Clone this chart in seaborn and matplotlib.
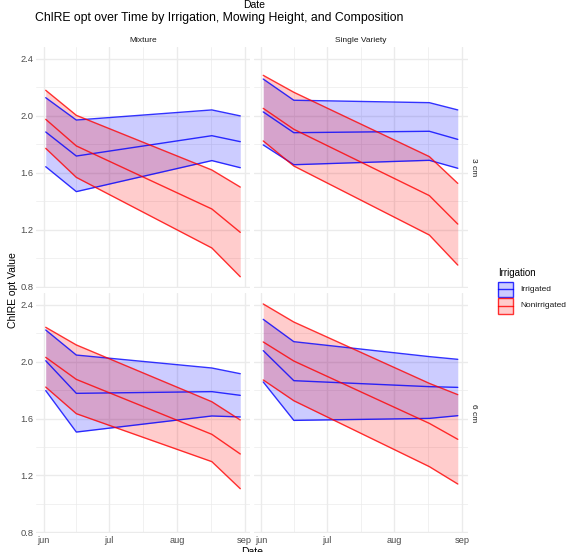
import matplotlib
matplotlib.use("Agg")
import matplotlib.pyplot as plt
from matplotlib.patches import Rectangle
import seaborn as sns
import pandas as pd
import numpy as np

# ---------------- data ----------------
dates = ["2023-06-02", "2023-06-16", "2023-08-17", "2023-08-30"]
compositions = ["Mixture", "Single Variety"]
heights = ["3 cm", "6 cm"]
irrigations = ["Irrigated", "Nonirrigated"]

# Mixture, 3 cm
mix3_irr_lo = [1.643, 1.468, 1.686, 1.636]
mix3_irr_mean = [1.887, 1.718, 1.861, 1.819]
mix3_irr_hi = [2.128, 1.971, 2.042, 2.000]
mix3_non_lo = [1.772, 1.568, 1.072, 0.870]
mix3_non_mean = [1.976, 1.789, 1.346, 1.182]
mix3_non_hi = [2.180, 2.004, 1.620, 1.500]

# Single Variety, 3 cm
sv3_irr_lo = [1.796, 1.657, 1.688, 1.632]
sv3_irr_mean = [2.028, 1.882, 1.892, 1.835]
sv3_irr_hi = [2.259, 2.110, 2.093, 2.042]
sv3_non_lo = [1.824, 1.648, 1.163, 0.952]
sv3_non_mean = [2.053, 1.906, 1.440, 1.240]
sv3_non_hi = [2.285, 2.166, 1.714, 1.526]

# Mixture, 6 cm
mix6_irr_lo = [1.796, 1.505, 1.618, 1.611]
mix6_irr_mean = [2.006, 1.777, 1.789, 1.763]
mix6_irr_hi = [2.222, 2.046, 1.955, 1.915]
mix6_non_lo = [1.821, 1.634, 1.297, 1.107]
mix6_non_mean = [2.030, 1.875, 1.489, 1.351]
mix6_non_hi = [2.241, 2.117, 1.718, 1.590]

# Single Variety, 6 cm
sv6_irr_lo = [1.857, 1.587, 1.601, 1.620]
sv6_irr_mean = [2.077, 1.866, 1.824, 1.819]
sv6_irr_hi = [2.297, 2.140, 2.035, 2.016]
sv6_non_lo = [1.871, 1.725, 1.262, 1.140]
sv6_non_mean = [2.138, 2.004, 1.566, 1.454]
sv6_non_hi = [2.405, 2.278, 1.847, 1.768]

y_ticks = [0.8, 1.2, 1.6, 2.0, 2.4]
x_tick_dates = ["2023-06-01", "2023-07-01", "2023-08-01", "2023-09-01"]
x_tick_labels = ["jun", "jul", "aug", "sep"]

# ---------------- build table ----------------
series = {
    ("Mixture", "3 cm", "Irrigated"): (mix3_irr_lo, mix3_irr_mean, mix3_irr_hi),
    ("Mixture", "3 cm", "Nonirrigated"): (mix3_non_lo, mix3_non_mean, mix3_non_hi),
    ("Single Variety", "3 cm", "Irrigated"): (sv3_irr_lo, sv3_irr_mean, sv3_irr_hi),
    ("Single Variety", "3 cm", "Nonirrigated"): (sv3_non_lo, sv3_non_mean, sv3_non_hi),
    ("Mixture", "6 cm", "Irrigated"): (mix6_irr_lo, mix6_irr_mean, mix6_irr_hi),
    ("Mixture", "6 cm", "Nonirrigated"): (mix6_non_lo, mix6_non_mean, mix6_non_hi),
    ("Single Variety", "6 cm", "Irrigated"): (sv6_irr_lo, sv6_irr_mean, sv6_irr_hi),
    ("Single Variety", "6 cm", "Nonirrigated"): (sv6_non_lo, sv6_non_mean, sv6_non_hi),
}
rows = []
for (comp, h, irr), (lo, mn, hi) in series.items():
    for d, a, b, c in zip(dates, lo, mn, hi):
        rows.append(dict(Date=pd.Timestamp(d), Composition=comp, Height=h,
                         Irrigation=irr, lo=a, mean=b, hi=c))
df = pd.DataFrame(rows)

# ---------------- figure ----------------
sns.set_theme(style="white")
plt.rcParams["font.family"] = ["Liberation Sans", "DejaVu Sans"]

W, H = 568, 552
fig = plt.figure(figsize=(W / 100, H / 100), dpi=100)

colors = {"Irrigated": "#0000FF", "Nonirrigated": "#FF0000"}

panel_x = [36, 253.5]
panel_w = 214
panel_y = [47.3, 293]
panel_h = 240.4

d0 = pd.Timestamp(dates[0])
d1 = pd.Timestamp(dates[-1])
pad = (d1 - d0) * 0.05
xlim = (d0 - pad, d1 + pad)
ylim = (0.793, 2.482)

major_x = [pd.Timestamp(d) for d in x_tick_dates]
minor_x = [major_x[i] + (major_x[i + 1] - major_x[i]) / 2 for i in range(3)]
minor_y = [1.0, 1.4, 1.8, 2.2]

grid_col = "#EBEBEB"

for r, h in enumerate(heights):
    for c, comp in enumerate(compositions):
        left = panel_x[c] / W
        bottom = 1 - (panel_y[r] + panel_h) / H
        ax = fig.add_axes([left, bottom, panel_w / W, panel_h / H])
        ax.set_facecolor("white")
        for s in ax.spines.values():
            s.set_visible(False)
        # grid
        for yv in y_ticks:
            ax.axhline(yv, color=grid_col, lw=1.0, zorder=0)
        for yv in minor_y:
            ax.axhline(yv, color=grid_col, lw=0.5, zorder=0)
        for xv in major_x:
            ax.axvline(xv, color=grid_col, lw=1.0, zorder=0)
        for xv in minor_x:
            ax.axvline(xv, color=grid_col, lw=0.5, zorder=0)

        for irr in irrigations:
            sub = df[(df.Composition == comp) & (df.Height == h) & (df.Irrigation == irr)]
            col = colors[irr]
            ax.fill_between(sub["Date"], sub["lo"], sub["hi"], color=col,
                            alpha=0.2, lw=0, zorder=2)
            for stat in ["lo", "mean", "hi"]:
                sns.lineplot(data=sub, x="Date", y=stat, ax=ax, color=col,
                             lw=1.0, alpha=0.8, estimator=None, legend=False,
                             zorder=3)

        ax.set_xlim(*xlim)
        ax.set_ylim(*ylim)
        ax.set_xlabel("")
        ax.set_ylabel("")
        ax.set_yticks(y_ticks)
        ax.set_xticks(major_x)
        ax.tick_params(length=0, pad=2, labelsize=6.7, colors="#4D4D4D")
        if c == 0:
            ax.set_yticklabels([f"{v:.1f}" for v in y_ticks])
        else:
            ax.set_yticklabels([])
        if r == 1:
            ax.set_xticklabels(x_tick_labels)
        else:
            ax.set_xticklabels([])
        ax.grid(False)

        if r == 0:
            fig.text((panel_x[c] + panel_w / 2) / W, 1 - 41 / H, comp,
                     ha="center", va="center", fontsize=6, color="#1A1A1A")
        if c == 1:
            fig.text((panel_x[c] + panel_w + 6) / W,
                     1 - (panel_y[r] + panel_h / 2) / H, h,
                     ha="center", va="center", rotation=-90, fontsize=6,
                     color="#1A1A1A")

# titles / labels
fig.text(254 / W, 1 - 4.5 / H, "Date", ha="center", va="center", fontsize=7.5,
         color="black")
fig.text(35 / W, 1 - 18 / H,
         "ChlRE opt over Time by Irrigation, Mowing Height, and Composition",
         ha="left", va="center", fontsize=8.8, color="black")
fig.text(13 / W, 1 - 290 / H, "ChlRE opt Value", ha="center", va="center",
         rotation=90, fontsize=7.5, color="black")
fig.text(252 / W, 1 - 547 / H, "Date", ha="center", va="top", fontsize=7.5,
         color="black")

# legend (drawn in a pixel-coordinate overlay axes)
lx0, lx1, ly0, ly1 = 480, 568, 260, 320
lax = fig.add_axes([lx0 / W, 1 - ly1 / H, (lx1 - lx0) / W, (ly1 - ly0) / H])
lax.set_xlim(lx0, lx1)
lax.set_ylim(ly1, ly0)
lax.axis("off")
lax.text(498, 272.5, "Irrigation", ha="left", va="center", fontsize=7,
         color="black")
key_x, key_w, key_h = 498.5, 14.5, 15.5
for i, irr in enumerate(irrigations):
    col = colors[irr]
    ky = 281.5 + i * 16.5
    lax.add_patch(Rectangle((key_x, ky), key_w, key_h, facecolor=col,
                            alpha=0.2, edgecolor="none"))
    lax.add_patch(Rectangle((key_x, ky), key_w, key_h, facecolor="none",
                            edgecolor=col, lw=1.0, alpha=0.8))
    lax.plot([key_x, key_x + key_w], [ky + key_h / 2] * 2, color=col, lw=1.0,
             alpha=0.8)
    lax.text(520, ky + key_h / 2, irr, ha="left", va="center", fontsize=6,
             color="#1A1A1A")

fig.savefig("out.png", dpi=100)
